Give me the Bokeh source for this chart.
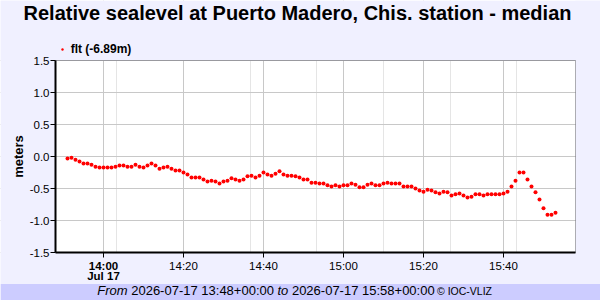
import math
import pandas as pd
from bokeh.plotting import figure
from bokeh.models import (ColumnDataSource, Label, Legend, LegendItem, Grid,
                          BoxAnnotation, FixedTicker, SingleIntervalTicker,
                          DatetimeAxis, LinearAxis, DatetimeTickFormatter,
                          PrintfTickFormatter, Range1d)
from bokeh.embed import file_html
from bokeh.resources import INLINE

# ---------------- data ----------------
title_text = "Relative sealevel at Puerto Madero, Chis. station - median"
series_label = "flt (-6.89m)"
y_label = "meters"
first_sample = "2026-07-17 13:51"   # one sample per minute
range_start = "2026-07-17 13:48"
range_end = "2026-07-17 15:58"

flt = [
    -0.03, -0.02, -0.05, -0.08, -0.11, -0.11, -0.13, -0.16, -0.17, -0.17,
    -0.17, -0.17, -0.16, -0.14, -0.14, -0.16, -0.16, -0.13, -0.16, -0.17,
    -0.14, -0.11, -0.14, -0.19, -0.17, -0.16, -0.19, -0.22, -0.22, -0.25,
    -0.28, -0.33, -0.33, -0.33, -0.36, -0.39, -0.38, -0.39, -0.42, -0.39,
    -0.38, -0.34, -0.36, -0.38, -0.36, -0.31, -0.30, -0.33, -0.30, -0.25,
    -0.28, -0.30, -0.27, -0.23, -0.28, -0.30, -0.30, -0.31, -0.33, -0.36,
    -0.36, -0.41, -0.41, -0.42, -0.42, -0.45, -0.47, -0.45, -0.47, -0.45,
    -0.45, -0.42, -0.44, -0.48, -0.48, -0.44, -0.42, -0.45, -0.45, -0.42,
    -0.41, -0.42, -0.42, -0.42, -0.47, -0.47, -0.47, -0.50, -0.53, -0.55,
    -0.52, -0.53, -0.56, -0.58, -0.55, -0.56, -0.61, -0.59, -0.58, -0.61,
    -0.64, -0.63, -0.59, -0.59, -0.61, -0.59, -0.59, -0.59, -0.59, -0.58,
    -0.55, -0.47, -0.38, -0.25, -0.25, -0.36, -0.47, -0.56, -0.67, -0.81,
    -0.91, -0.91, -0.88,
]
times = pd.date_range(first_sample, periods=len(flt), freq="1min")

x_tick_times = ["2026-07-17 14:00", "2026-07-17 14:20", "2026-07-17 14:40",
                "2026-07-17 15:00", "2026-07-17 15:20", "2026-07-17 15:40"]
first_tick_label = "14:00"
first_tick_date = "Jul 17"
y_min, y_max = -1.5, 1.5
footer_from = "2026-07-17 13:48+00:00"
footer_to = "2026-07-17 15:58+00:00"
footer_credit = "\u00a9 IOC-VLIZ"

# ---------------- layout (pixels) ----------------
W, H = 600, 300
LEFT, RIGHT, TOP, BOTTOM = 55, 25, 60, 48     # plot area margins
FONT = "Liberation Sans"
BG = "#F0F0FF"
BAND = "#CCCCFF"

t0, t1 = pd.Timestamp(range_start), pd.Timestamp(range_end)
ms_per_px = (t1 - t0).total_seconds() * 1000 / (W - LEFT - RIGHT)
unit_per_px = (y_max - y_min) / (H - TOP - BOTTOM)

def ms(s):
    return pd.Timestamp(s).value / 1e6

src = ColumnDataSource(dict(t=times, v=flt))

# the frame fills the whole canvas; axes are pinned to the plot-area edges
p = figure(width=W, height=H,
           x_range=Range1d(ms(range_start) - LEFT * ms_per_px,
                           ms(range_end) + RIGHT * ms_per_px),
           y_range=Range1d(y_min - BOTTOM * unit_per_px,
                           y_max + TOP * unit_per_px),
           x_axis_location=None, y_axis_location=None,
           toolbar_location=None, output_backend="svg", min_border=0)
p.title = None
p.background_fill_color = "white"
p.border_fill_color = BG
p.outline_line_color = None

tick_ms = [ms(t) for t in x_tick_times]
p.add_layout(Grid(dimension=0, ticker=FixedTicker(ticks=tick_ms),
                  grid_line_color="#C8C8C8", grid_line_width=1))
p.add_layout(Grid(dimension=1, ticker=SingleIntervalTicker(interval=0.5),
                  grid_line_color="#C8C8C8", grid_line_width=1))

# paint everything outside the plot area like the page background
for kw in (dict(bottom=y_max), dict(top=y_min), dict(right=t0), dict(left=t1)):
    p.add_layout(BoxAnnotation(**kw, fill_color=BG, fill_alpha=1,
                               line_color=None, level="underlay"))
# footer band
p.add_layout(BoxAnnotation(bottom=0, top=16.5, bottom_units="screen",
                           top_units="screen", fill_color=BAND, fill_alpha=1,
                           line_color=None, level="underlay"))
# plot-area border
p.add_layout(BoxAnnotation(left=t0, right=t1, bottom=y_min, top=y_max,
                           fill_alpha=0, line_color="black", line_width=1,
                           level="underlay"))

r = p.scatter(x="t", y="v", source=src, size=4, fill_color="red",
              line_color=None, marker="circle")

# axes
xaxis = DatetimeAxis(fixed_location=y_min, bounds=(ms(range_start), ms(range_end)),
                     ticker=FixedTicker(ticks=tick_ms),
                     formatter=DatetimeTickFormatter(
                         **{k: "%H:%M" for k in ("seconds", "minsec", "minutes",
                                                 "hourmin", "hours")}))
xaxis.major_label_overrides = {tick_ms[0]: " "}
yaxis = LinearAxis(fixed_location=ms(range_start), bounds=(y_min, y_max),
                   ticker=SingleIntervalTicker(interval=0.5),
                   formatter=PrintfTickFormatter(format="%.1f"))
for ax in (xaxis, yaxis):
    ax.axis_line_width = 2
    ax.axis_line_color = "black"
    ax.major_tick_line_color = "black"
    ax.major_tick_out = 5
    ax.major_tick_in = 0
    ax.minor_tick_line_color = None
    ax.major_label_text_font = FONT
    ax.major_label_text_font_size = "11.5px"
    ax.major_label_text_color = "black"
xaxis.major_label_standoff = 2
yaxis.major_label_standoff = 1
p.add_layout(xaxis, "below")
p.add_layout(yaxis, "left")

# y axis title
p.add_layout(Label(x=18, y=H - 156, x_units="screen", y_units="screen",
                   text=y_label, angle=math.pi / 2, text_align="center",
                   text_baseline="middle", text_font=FONT,
                   text_font_size="13px", text_font_style="bold",
                   text_color="black"))

# bold first tick label with its date
for txt, cy in ((first_tick_label, 265), (first_tick_date, 275.8)):
    p.add_layout(Label(x=tick_ms[0], y=H - cy, y_units="screen", text=txt,
                       text_align="center", text_baseline="middle",
                       text_font=FONT, text_font_size="11.5px",
                       text_font_style="bold", text_color="black"))

# title
p.add_layout(Label(x=297, y=H - 12.5, x_units="screen", y_units="screen",
                   text=title_text, text_align="center", text_baseline="middle",
                   text_font=FONT, text_font_size="20px", text_font_style="bold",
                   text_color="black"))

# legend
leg = Legend(items=[LegendItem(label=series_label, renderers=[r])],
             location=(58.7, 244), background_fill_alpha=0,
             border_line_alpha=0, padding=0, margin=0, spacing=0,
             glyph_width=6, glyph_height=12, label_height=12, label_standoff=6,
             label_text_font=FONT, label_text_font_size="12px",
             label_text_font_style="bold", label_text_color="black")
p.add_layout(leg)

# footer text
parts = [("From", 96.7, "italic", "13px"),
         (footer_from, 130.7, "normal", "13px"),
         ("to", 277.0, "italic", "13px"),
         (footer_to, 291.4, "normal", "13px"),
         (footer_credit, 436.5, "normal", "10.5px")]
for txt, xx, style, size in parts:
    p.add_layout(Label(x=xx, y=H - 290.3, x_units="screen", y_units="screen",
                       text=txt, text_align="left", text_baseline="middle",
                       text_font=FONT, text_font_size=size,
                       text_font_style=style, text_color="black"))

open("out.html", "w").write(file_html(p, INLINE))
